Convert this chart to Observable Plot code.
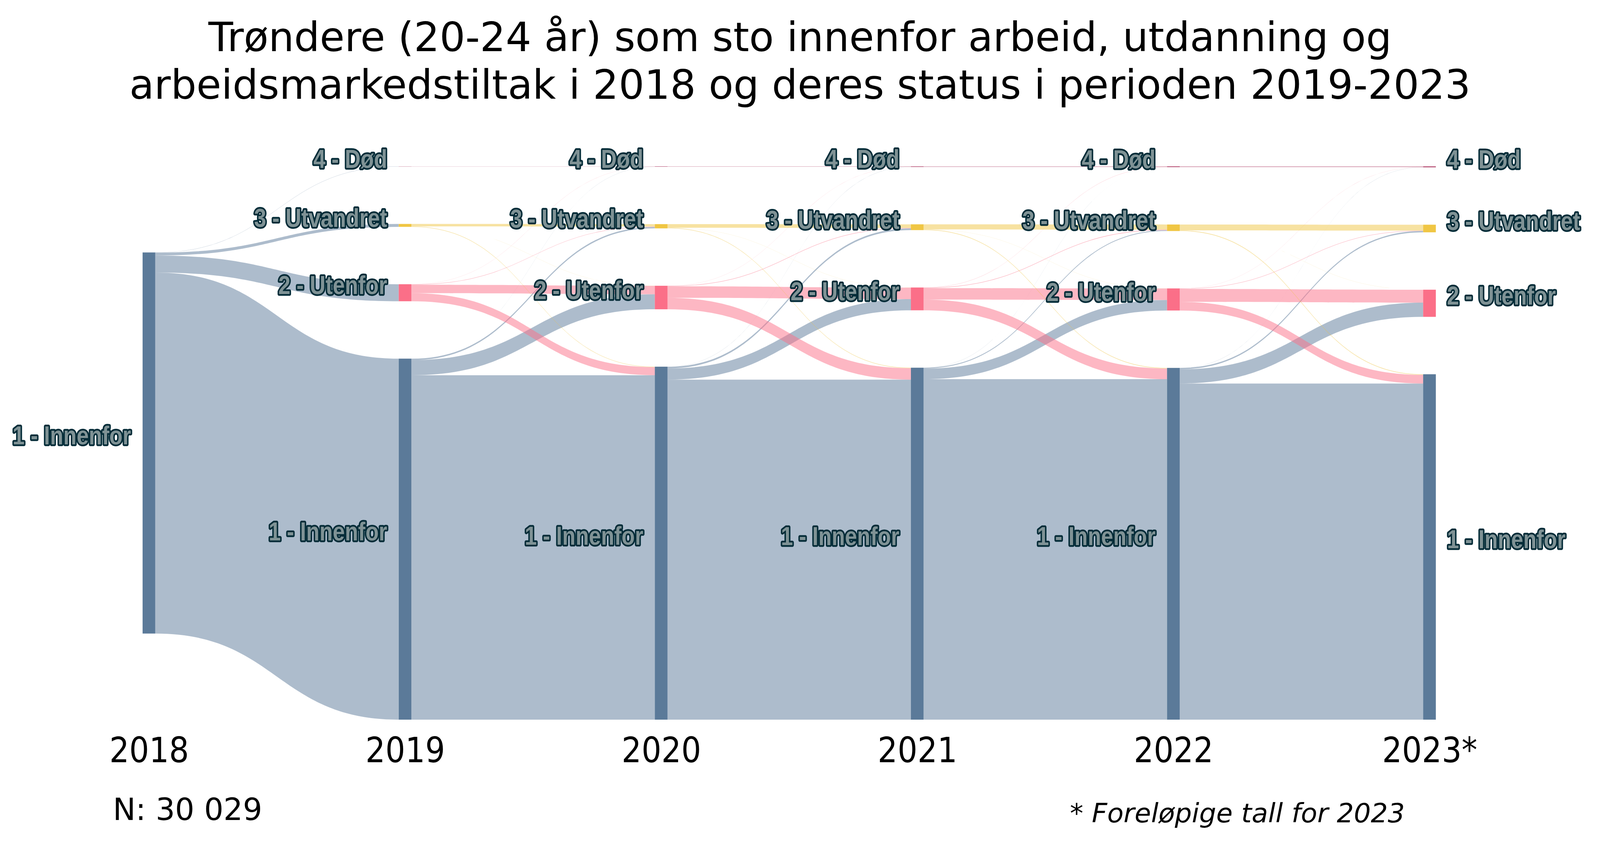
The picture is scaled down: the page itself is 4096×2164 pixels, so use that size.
<!DOCTYPE html>
<html><head><meta charset="utf-8">
<script src="https://cdn.jsdelivr.net/npm/d3@7"></script>
<script src="https://cdn.jsdelivr.net/npm/@observablehq/plot@0.6"></script>
<style>
html,body{margin:0;padding:0;background:#fff;}
#wrap{position:relative;width:4096px;height:2164px;overflow:hidden;background:#fff;}
#chart{position:absolute;left:0;top:0;}
#title{position:absolute;left:0;top:34px;width:4096px;text-align:center;font-family:"DejaVu Sans";font-size:103.5px;line-height:122px;color:#000;}
#nlabel{position:absolute;left:289px;top:2034px;font-family:"DejaVu Sans";font-size:78px;line-height:78px;color:#000;white-space:nowrap;}
#note{position:absolute;left:2739px;top:2048px;font-family:"DejaVu Sans";font-style:italic;font-size:68.5px;line-height:68px;color:#000;white-space:nowrap;}
</style></head><body>
<div id="wrap">
<div id="chart"></div>
<div id="title">Trøndere (20-24 år) som sto innenfor arbeid, utdanning og<br>arbeidsmarkedstiltak i 2018 og deres status i perioden 2019-2023</div>
<div id="nlabel">N: 30 029</div>
<div id="note">* Foreløpige tall for 2023</div>
</div>
<script>
// ---- data ----
const years = ["2018", "2019", "2020", "2021", "2022", "2023*"];
const statuses = ["1 - Innenfor", "2 - Utenfor", "3 - Utvandret", "4 - Død"];
// stacking order top -> bottom (indices into statuses)
const stackOrder = [3, 2, 1, 0];
const nodeColors = ["#5b7a99", "#fb6f88", "#f0c644", "#b2466c"];
// persons in each status in 2018
const start2018 = [30029, 0, 0, 0];
// flows: rows = status in year t, columns = status in year t+1 (Innenfor, Utenfor, Utvandret, Død)
const flows2018to2019 = [[28446, 1340, 228, 15], [0, 0, 0, 0], [0, 0, 0, 0], [0, 0, 0, 0]];
const flows2019to2020 = [[27139, 1188, 114, 5], [640, 660, 30, 10], [33, 5, 190, 0], [0, 0, 0, 15]];
const flows2020to2021 = [[26792, 880, 133, 7], [900, 910, 35, 8], [40, 6, 288, 0], [0, 0, 0, 30]];
const flows2021to2022 = [[26831, 830, 69, 2], [840, 903, 40, 13], [45, 7, 404, 0], [0, 0, 0, 45]];
const flows2022to2023 = [[26486, 1120, 105, 5], [680, 1018, 32, 10], [50, 1, 462, 0], [0, 0, 0, 60]];
const transitions = [flows2018to2019, flows2019to2020, flows2020to2021, flows2021to2022, flows2022to2023];

// ---- layout (pixel styling constants) ----
const W = 4096, H = 2164;
const plotTop = 426, plotBottom = 1843;
const padPx = 147, nodeWidthPx = 32.5;
const xFirst = 381.3, xLast = 3659.5;
const stepPx = (xLast - xFirst) / (years.length - 1);
const hw = nodeWidthPx / 2 / stepPx;
const labelSqueeze = 0.845;

const N = d3.sum(start2018);
const nodesPx = (plotBottom - plotTop) - 3 * padPx;
const pad = padPx * N / nodesPx;
const colSpan = N + 3 * pad;

// node values per column
const colValues = [start2018];
transitions.forEach(m => colValues.push(statuses.map((_, t) => d3.sum(m, row => row[t]))));

// node positions
const nodes = [];
const nodeAt = {};
colValues.forEach((vals, c) => {
  const present = stackOrder.filter(s => vals[s] > 0);
  const total = d3.sum(present, s => vals[s]) + (present.length - 1) * pad;
  let y = (colSpan - total) / 2;
  present.forEach(s => {
    const n = {col: c, s, y0: y, y1: y + vals[s], label: statuses[s], fill: nodeColors[s]};
    nodes.push(n);
    nodeAt[c + "_" + s] = n;
    y += vals[s] + pad;
  });
});

// links
const linkData = [];
transitions.forEach((m, k) => {
  const outOff = {}, inOff = {};
  stackOrder.forEach(s => { if (nodeAt[k + "_" + s]) outOff[s] = nodeAt[k + "_" + s].y0; });
  stackOrder.forEach(t => { if (nodeAt[(k + 1) + "_" + t]) inOff[t] = nodeAt[(k + 1) + "_" + t].y0; });
  const srcPos = {}, tgtPos = {};
  stackOrder.forEach(s => {
    if (outOff[s] === undefined) return;
    stackOrder.forEach(t => {
      const v = m[s][t];
      if (v > 0) { srcPos[s + "_" + t] = [outOff[s], outOff[s] + v]; outOff[s] += v; }
    });
  });
  stackOrder.forEach(t => {
    stackOrder.forEach(s => {
      const v = m[s][t];
      if (v > 0) { tgtPos[s + "_" + t] = [inOff[t], inOff[t] + v]; inOff[t] += v; }
    });
  });
  statuses.forEach((_, s) => statuses.forEach((_, t) => {
    const v = m[s][t];
    if (!(v > 0)) return;
    const id = k + ":" + s + "-" + t;
    const [a0, a1] = srcPos[s + "_" + t], [b0, b1] = tgtPos[s + "_" + t];
    linkData.push({id, x: k + hw, y1: a0, y2: a1, fill: nodeColors[s]});
    linkData.push({id, x: k + 1 - hw, y1: b0, y2: b1, fill: nodeColors[s]});
  }));
});

const lastCol = years.length - 1;
const labelStyle = {
  text: "label",
  y: d => (d.y0 + d.y1) / 2,
  dy: -18,
  fontFamily: "Liberation Sans, Arial, sans-serif",
  fontWeight: "bold",
  fontSize: 66,
  fill: "#7f9295",
  stroke: "#042c38",
  strokeWidth: 9,
  strokeLinejoin: "round",
  paintOrder: "stroke"
};

const chart = Plot.plot({
  width: W, height: H,
  marginTop: plotTop, marginBottom: H - plotBottom,
  marginLeft: xFirst, marginRight: W - xLast,
  style: {background: "transparent", overflow: "visible"},
  x: {domain: [0, lastCol]},
  y: {domain: [0, colSpan], reverse: true, axis: null},
  color: {type: "identity"},
  marks: [
    Plot.areaY(linkData, {x: "x", y1: "y1", y2: "y2", z: "id", fill: "fill", fillOpacity: 0.5, curve: "bump-x"}),
    Plot.rect(nodes, {x1: d => d.col - hw, x2: d => d.col + hw, y1: "y0", y2: "y1", fill: "fill"}),
    Plot.text(nodes.filter(d => d.col < lastCol), {...labelStyle, x: d => d.col - hw, textAnchor: "end", dx: -30}),
    Plot.text(nodes.filter(d => d.col === lastCol), {...labelStyle, x: d => d.col + hw, textAnchor: "start", dx: 28}),
    Plot.axisX({ticks: d3.range(years.length), tickFormat: i => years[i], tickSize: 0, tickPadding: 45,
      fontSize: 89, fontFamily: "DejaVu Sans Condensed", fill: "#000", label: null})
  ]
});
document.getElementById("chart").appendChild(chart);
// narrow (condensed) rendering of the node labels: squeeze horizontally around each label's anchor
chart.querySelectorAll('g[aria-label="text"] text').forEach(t => {
  const b = t.getBBox();
  const anchor = t.getAttribute("text-anchor") || t.parentNode.getAttribute("text-anchor") || "start";
  const ax = anchor === "end" ? b.x + b.width : b.x;
  const tr = t.getAttribute("transform") || "";
  t.setAttribute("transform", `${tr} translate(${ax},0) scale(${labelSqueeze},1) translate(${-ax},0)`);
});
</script>
</body></html>
